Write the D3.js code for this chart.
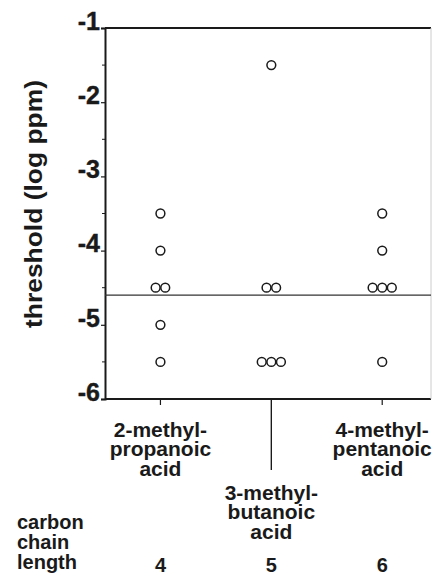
<!DOCTYPE html>
<html>
<head>
<meta charset="utf-8">
<script src="https://cdn.jsdelivr.net/npm/d3@7"></script>
<style>
  body { margin: 0; background: #fff; }
  svg { display: block; font-family: "Liberation Sans", Arial, sans-serif; font-weight: bold; }
</style>
</head>
<body>
<svg id="chart" width="432" height="575"></svg>
<script>
// values
const carbonLength = [4, 5, 6];
const acidLabels = [
  ["2-methyl-", "propanoic", "acid"],
  ["3-methyl-", "butanoic", "acid"],
  ["4-methyl-", "pentanoic", "acid"]
];
const thresholds4 = [-3.5, -4, -4.5, -4.5, -5, -5.5];
const thresholds5 = [-1.5, -4.5, -4.5, -5.5, -5.5, -5.5];
const thresholds6 = [-3.5, -4, -4.5, -4.5, -4.5, -5.5];
const yTicks = [-1, -2, -3, -4, -5, -6];
const yMinorTicks = [-1.5, -2.5, -3.5, -4.5, -5.5];
const meanThreshold = -4.6;

const svg = d3.select('#chart');
const ink = '#1a1a1a';

const plotL = 105, plotR = 431, plotT = 28, plotB = 399;

const x = d3.scaleLinear().domain([3.5, 6.44]).range([plotL, plotR]);
const y = d3.scaleLinear().domain([-6, -1]).range([plotB, plotT]);

// frame
svg.append('line').attr('x1', plotL).attr('x2', plotR).attr('y1', y(-1)).attr('y2', y(-1))
  .attr('stroke', ink).attr('stroke-width', 2);
svg.append('line').attr('x1', plotL).attr('x2', plotR).attr('y1', y(-6)).attr('y2', y(-6))
  .attr('stroke', ink).attr('stroke-width', 2);
svg.append('line').attr('x1', plotR).attr('x2', plotR).attr('y1', plotT).attr('y2', plotB)
  .attr('stroke', '#ccc').attr('stroke-width', 1);

// y axis
const yAxis = svg.append('g').attr('transform', `translate(${plotL},0)`)
  .call(d3.axisLeft(y).tickValues(yTicks).tickSize(4).tickFormat(d => d));
yAxis.select('.domain').attr('stroke', ink).attr('stroke-width', 2);
yAxis.selectAll('.tick line').attr('stroke', ink).attr('stroke-width', 1.2);
yAxis.selectAll('.tick text')
  .attr('x', -5).attr('dy', '0.05em')
  .attr('fill', ink).attr('stroke', ink).attr('stroke-width', 0.4)
  .style('font-size', '25px').style('font-weight', 'bold')
  .style('font-family', '"Liberation Sans", Arial, sans-serif');

svg.append('g').selectAll('line').data(yMinorTicks).join('line')
  .attr('x1', plotL - 3).attr('x2', plotL).attr('y1', d => y(d)).attr('y2', d => y(d))
  .attr('stroke', ink).attr('stroke-width', 1);

svg.append('text')
  .attr('transform', `translate(42,${(80 + 328) / 2}) rotate(-90)`)
  .attr('text-anchor', 'middle')
  .attr('textLength', 248).attr('lengthAdjust', 'spacingAndGlyphs')
  .attr('fill', ink)
  .style('font-size', '23px')
  .text('threshold (log ppm)');

// x ticks
svg.append('g').selectAll('line').data(carbonLength).join('line')
  .attr('x1', d => x(d)).attr('x2', d => x(d))
  .attr('y1', plotB).attr('y2', (d, i) => i == 1 ? 470 : plotB + 6)
  .attr('stroke', ink).attr('stroke-width', (d, i) => i == 1 ? 1.4 : 1.2);

// mean line
svg.append('line')
  .attr('x1', plotL).attr('x2', plotR)
  .attr('y1', y(meanThreshold)).attr('y2', y(meanThreshold))
  .attr('stroke', '#333').attr('stroke-width', 1.3);

// points, dodged sideways where values repeat
function dodge(vals, cx) {
  const out = [];
  const groups = d3.group(vals, v => v);
  groups.forEach((arr, v) => {
    arr.forEach((_, i) => out.push({ v: v, cx: cx + (i - (arr.length - 1) / 2) * 9.6 }));
  });
  return out;
}
const points = [
  ...dodge(thresholds4, x(carbonLength[0])),
  ...dodge(thresholds5, x(carbonLength[1])),
  ...dodge(thresholds6, x(carbonLength[2]))
];
svg.append('g').selectAll('circle').data(points).join('circle')
  .attr('cx', d => d.cx).attr('cy', d => y(d.v)).attr('r', 4.4)
  .attr('fill', '#fff').attr('stroke', ink).attr('stroke-width', 1.5);

// category labels
const labelTop = [437, 500, 437];
const labels = svg.append('g').attr('fill', ink).style('font-size', '21px');
acidLabels.forEach((lines, i) => {
  labels.selectAll(null).data(lines).join('text')
    .attr('x', x(carbonLength[i]))
    .attr('y', (d, j) => labelTop[i] + j * 19.3)
    .attr('text-anchor', 'middle')
    .text(d => d);
});

const chainRows = ['carbon', 'chain', 'length'];
labels.selectAll(null).data(chainRows).join('text')
  .attr('x', 17).attr('y', (d, j) => 529 + j * 20)
  .style('font-size', '20px')
  .text(d => d);

labels.selectAll(null).data(carbonLength).join('text')
  .attr('x', d => x(d)).attr('y', 572)
  .attr('text-anchor', 'middle')
  .style('font-size', '20px')
  .text(d => d);
</script>
</body>
</html>
